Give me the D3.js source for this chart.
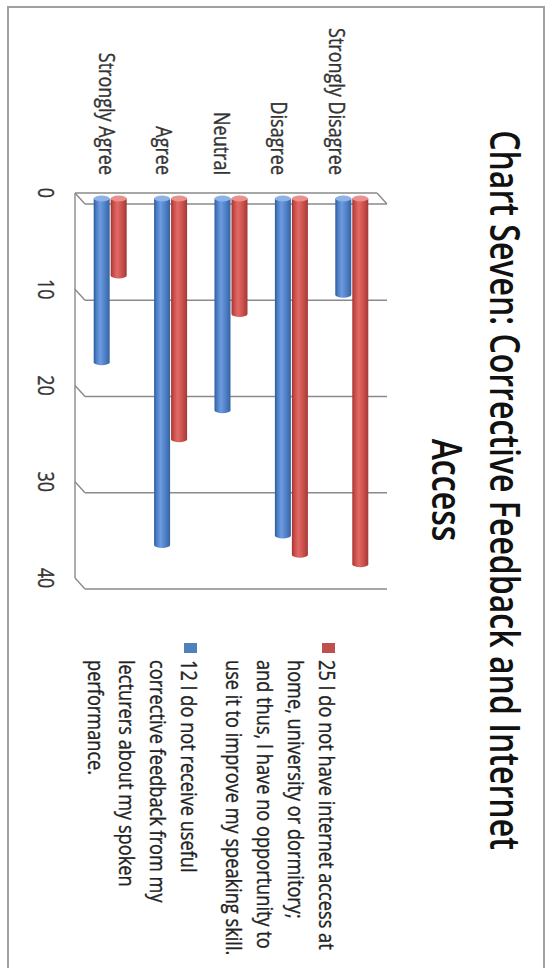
<!DOCTYPE html>
<html><head><meta charset="utf-8">
<script src="https://cdn.jsdelivr.net/npm/d3@7"></script>
<style>html,body{margin:0;padding:0;background:#fff;overflow:hidden}</style>
</head><body><svg id="c" width="547" height="968"></svg>
<script>
const categories = ["Strongly Agree", "Agree", "Neutral", "Disagree", "Strongly Disagree"];
const feedbackValues = [17, 36, 22, 35, 10];   // 12 I do not receive useful corrective feedback ...
const internetValues = [8, 25, 12, 37, 38];    // 25 I do not have internet access ...
const tickValues = [0, 10, 20, 30, 40];
const titleLines = ["Chart Seven: Corrective Feedback and Internet", "Access"];
const internetLegendLines = ["25 I do not have internet access at", "home, university or dormitory;", "and thus, I have no opportunity to", "use it to improve my speaking skill."];
const feedbackLegendLines = ["12 I do not receive useful", "corrective feedback from my", "lecturers about my spoken", "performance."];

const svg = d3.select("#c");
const FONT = "'Open Sans', 'Noto Sans', sans-serif";
const SX = 1.22;

const defs = svg.append("defs");
function grad(id, stops) {
  const g = defs.append("linearGradient").attr("id", id).attr("x1", 0).attr("x2", 1).attr("y1", 0).attr("y2", 0);
  stops.forEach(s => g.append("stop").attr("offset", s[0]).attr("stop-color", s[1]));
}
grad("gBlue", [[0, "#2e5a96"], [0.15, "#4a7cc2"], [0.4, "#6d9be0"], [0.7, "#4f81c8"], [1, "#36639e"]]);
grad("gRed", [[0, "#9e3431"], [0.15, "#c94a46"], [0.4, "#e06a66"], [0.7, "#cc514d"], [1, "#a23936"]]);

// frame
svg.append("rect").attr("x", 8).attr("y", 7).attr("width", 536).attr("height", 990)
  .attr("fill", "none").attr("stroke", "#a0a0a0").attr("stroke-width", 2);

const yBack = d3.scaleLinear().domain([0, 40]).range([204, 589]);
const xBack = d3.scaleBand().domain(categories).range([85, 387]);
const DX = -10, DY = -11;
const x0 = xBack.range()[0], x1 = xBack.range()[1];

const grid = svg.append("g").attr("stroke", "#8a8a8a").attr("stroke-width", 1.4).attr("fill", "none");
tickValues.forEach(v => {
  grid.append("line").attr("x1", x0).attr("x2", x1).attr("y1", yBack(v)).attr("y2", yBack(v));
  grid.append("line").attr("x1", x0 + DX).attr("y1", yBack(v) + DY).attr("x2", x0).attr("y2", yBack(v));
});
grid.append("line").attr("x1", x0 + DX).attr("x2", x0 + DX).attr("y1", yBack(0) + DY).attr("y2", yBack(40) + DY);
grid.append("line").attr("x1", x0 + DX).attr("x2", x1 + DX).attr("y1", yBack(0) + DY).attr("y2", yBack(0) + DY);
grid.append("line").attr("x1", x1 + DX).attr("y1", yBack(0) + DY).attr("x2", x1).attr("y2", yBack(0));

// cylinders
const yMid = v => yBack(v) + DY / 2;
const cx = c => xBack(c) + xBack.bandwidth() / 2 + DX / 2;
const BW = 16, RY = 3;
function cylinder(c, v, off, fill, top) {
  const x = cx(c) + off, yt = yMid(0), yb = yMid(v), l = x - BW / 2, r = x + BW / 2;
  svg.append("path")
    .attr("d", `M${l},${yt} L${l},${yb} A${BW / 2},${RY} 0 0 0 ${r},${yb} L${r},${yt} Z`)
    .attr("fill", fill);
  svg.append("ellipse").attr("cx", x).attr("cy", yt).attr("rx", BW / 2).attr("ry", RY).attr("fill", top);
}
categories.forEach((c, i) => {
  cylinder(c, feedbackValues[i], -8.5, "url(#gBlue)", "#8db2e6");
  cylinder(c, internetValues[i], 8.5, "url(#gRed)", "#e8918d");
});

// rotated text helper
function rtext(x, y, str, size, anchor, color, weight, sx, sw) {
  return svg.append("text")
    .attr("transform", `translate(${x},${y}) scale(${sx},1) rotate(90)`)
    .attr("font-family", FONT).attr("font-size", size).attr("font-weight", weight)
    .attr("text-anchor", anchor).attr("dominant-baseline", "central")
    .attr("fill", color).attr("stroke", color).attr("stroke-width", sw).text(str);
}
function fitSize(str, target, base, weight) {
  const t = svg.append("text").attr("font-family", FONT).attr("font-size", base).attr("font-weight", weight).text(str);
  const len = t.node().getComputedTextLength();
  t.remove();
  return base * target / len;
}

const labelSize = fitSize("Strongly Disagree", 147, 20, 400);
const legendSize = fitSize(internetLegendLines[0], 290, 20, 400);
const titleSize = fitSize(titleLines[0], 720, 36, 600);

// tick labels
tickValues.forEach(v => rtext(46, yBack(v) + DY, String(v), labelSize, "middle", "#333", 400, SX, 0.3));

// category labels
const labelPos = d3.scalePoint().domain(categories).range([107, 337]);
categories.forEach(c => rtext(labelPos(c), 175, c, labelSize, "end", "#333", 400, SX, 0.3));

// title
rtext(506, 490, titleLines[0], titleSize, "middle", "#111", 600, 1.3, 0);
rtext(448, 490, titleLines[1], titleSize, "middle", "#111", 600, 1.3, 0);

// legend
svg.append("rect").attr("x", 322).attr("y", 643).attr("width", 13).attr("height", 10).attr("fill", "#c0504d");
internetLegendLines.forEach((s, i) => rtext(328 - 31 * i, 660, s, legendSize, "start", "#222", 400, SX, 0.3));
svg.append("rect").attr("x", 184).attr("y", 643).attr("width", 13).attr("height", 10).attr("fill", "#4f81bd");
feedbackLegendLines.forEach((s, i) => rtext(190 - 31 * i, 660, s, legendSize, "start", "#222", 400, SX, 0.3));
</script></body></html>
